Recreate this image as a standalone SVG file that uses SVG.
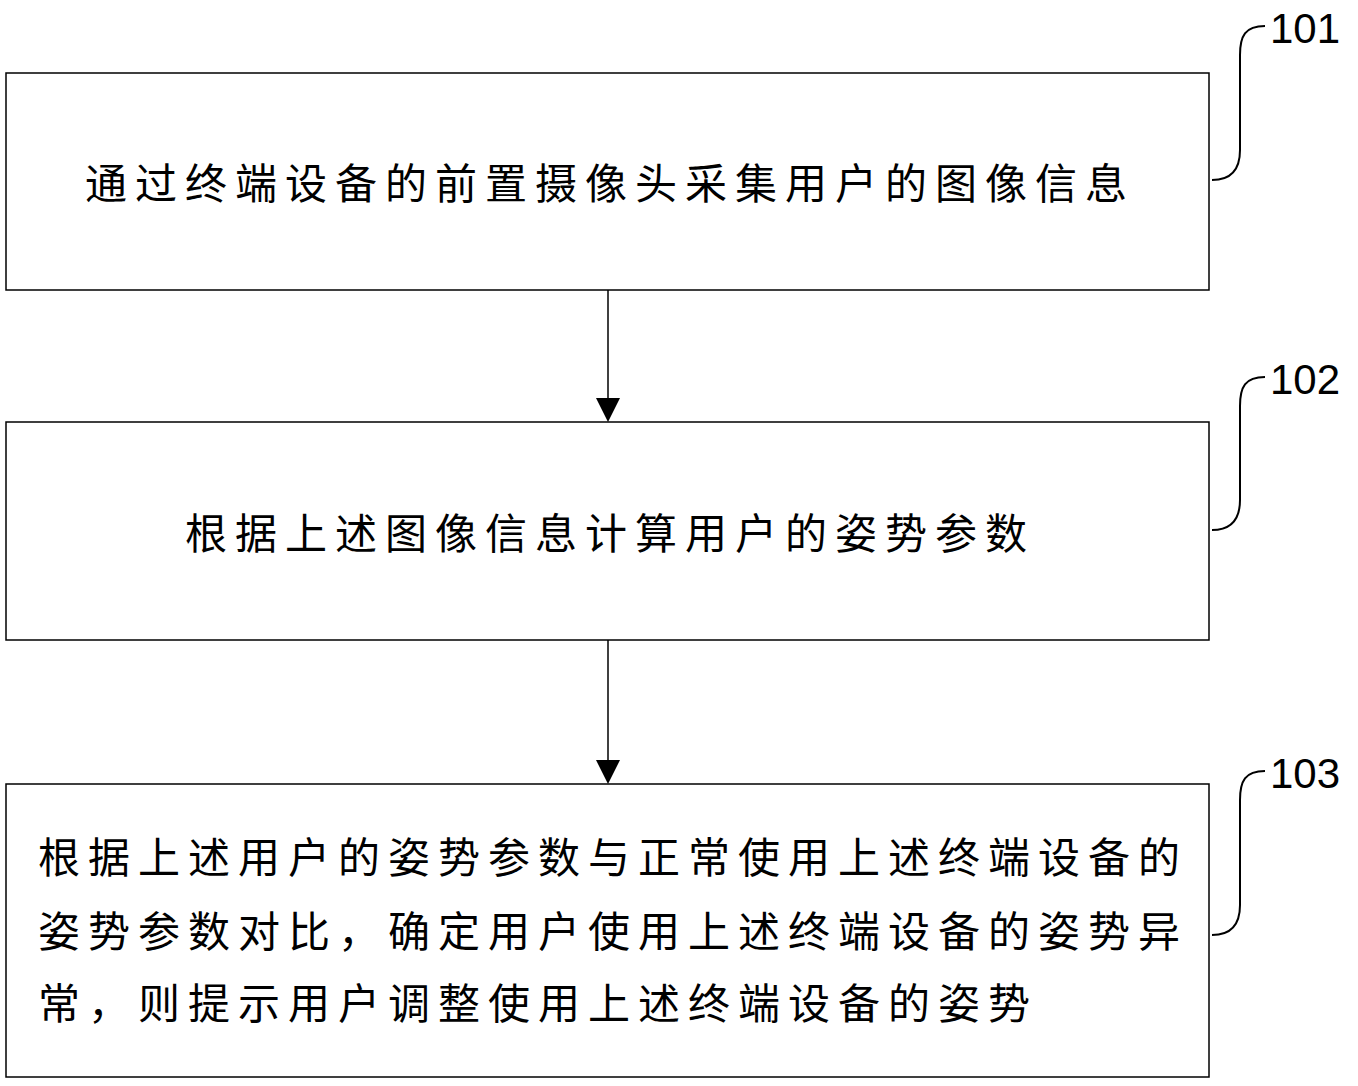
<svg xmlns="http://www.w3.org/2000/svg" width="1358" height="1086" viewBox="0 0 1358 1086">
<style>
.box{fill:#fff;stroke:#000;stroke-width:1.5}
.t{font-family:"Noto Sans CJK SC","Liberation Sans",sans-serif;font-size:42px;letter-spacing:8px;fill:#000}
.n{font-family:"Liberation Sans",sans-serif;font-size:42px;fill:#000}
.br{fill:none;stroke:#000;stroke-width:2}
.ln{stroke:#000;stroke-width:1.5}
</style>
<rect width="1358" height="1086" fill="#fff"/>
<g id="connectors">
<line class="ln" x1="608" y1="290" x2="608" y2="398"/><path d="M596,398 L620,398 L608,422 z"/>
<line class="ln" x1="608" y1="640" x2="608" y2="760"/><path d="M596,760 L620,760 L608,784 z"/>
</g>
<g id="n101">
<rect class="box" x="6" y="73" width="1203" height="217"/>
<text class="t" x="85" y="199">通过终端设备的前置摄像头采集用户的图像信息</text>
<path class="br" d="M1265,26 C1245,26 1240,36 1240,55 L1240,150 C1240,170 1230,180 1212,180"/>
<text class="n" x="1270" y="43">101</text>
</g>
<g id="n102">
<rect class="box" x="6" y="422" width="1203" height="218"/>
<text class="t" x="185" y="549">根据上述图像信息计算用户的姿势参数</text>
<path class="br" d="M1265,377 C1245,377 1240,387 1240,406 L1240,500 C1240,520 1230,530 1212,530"/>
<text class="n" x="1270" y="394">102</text>
</g>
<g id="n103">
<rect class="box" x="6" y="784" width="1203" height="293"/>
<text class="t" x="38" y="873">根据上述用户的姿势参数与正常使用上述终端设备的</text>
<text class="t" x="38" y="947">姿势参数对比，确定用户使用上述终端设备的姿势异</text>
<text class="t" x="38" y="1019">常，则提示用户调整使用上述终端设备的姿势</text>
<path class="br" d="M1265,771 C1245,771 1240,781 1240,800 L1240,905 C1240,925 1230,935 1212,935"/>
<text class="n" x="1270" y="788">103</text>
</g>
</svg>
